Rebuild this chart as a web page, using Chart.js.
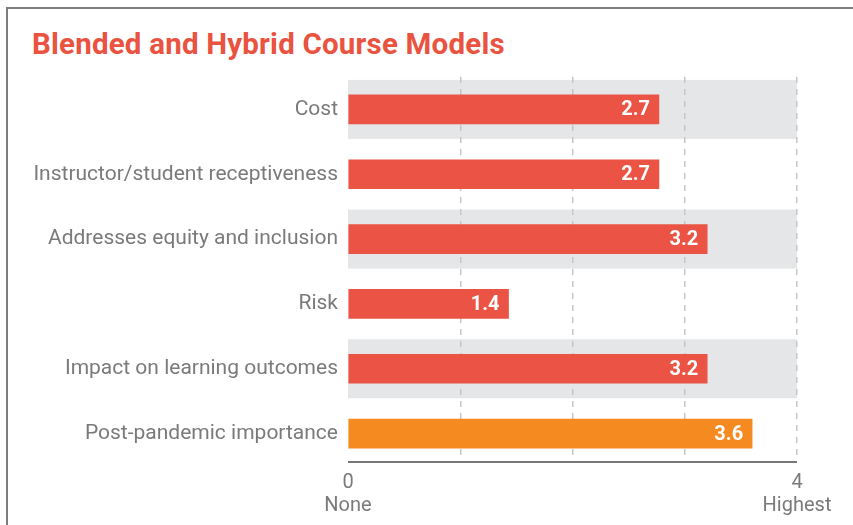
<!DOCTYPE html>
<html>
<head>
<meta charset="utf-8">
<script src="https://cdn.jsdelivr.net/npm/chart.js@4/dist/chart.umd.min.js"></script>
<style>
  html, body { margin: 0; padding: 0; background: #ffffff; }
  #wrap { position: relative; width: 853px; height: 525px; overflow: hidden; }
  #frame { position: absolute; left: 6px; top: 7px; width: 900px; height: 600px;
           border-top: 2px solid #7d7d7d; border-left: 2px solid #7d7d7d; }
  #title { position: absolute; left: 32px; top: 27px; margin: 0;
           font-family: Roboto, "Noto Sans", sans-serif; font-weight: 700; font-size: 29.5px;
           color: #e9533f; letter-spacing: 0.2px; white-space: nowrap; }
  #c { position: absolute; left: 0; top: 0; }
</style>
</head>
<body>
<div id="wrap">
  <div id="frame"></div>
  <h1 id="title">Blended and Hybrid Course Models</h1>
  <canvas id="c" width="853" height="525"></canvas>
</div>
<script>
const categories = [
  'Cost',
  'Instructor/student receptiveness',
  'Addresses equity and inclusion',
  'Risk',
  'Impact on learning outcomes',
  'Post-pandemic importance'
];
const scores = [2.77, 2.77, 3.2, 1.43, 3.2, 3.6];
const scoreLabels = ['2.7', '2.7', '3.2', '1.4', '3.2', '3.6'];
const axisTickLabels = { 0: ['0', 'None'], 4: ['4', 'Highest'] };
const highlightIndex = 5;

const RED = '#eb5444';
const ORANGE = '#f58a20';
const BAND = '#e5e6e8';
const TEXT = '#7a7a7a';
const GRID = '#c6c6c6';

const bandsPlugin = {
  id: 'bands',
  beforeDraw(chart) {
    const { ctx, scales: { x, y } } = chart;
    const x0 = x.getPixelForValue(0), x1 = x.getPixelForValue(4);
    const step = y.getPixelForValue(1) - y.getPixelForValue(0);
    const h = step * 0.91;
    ctx.save();
    ctx.fillStyle = BAND;
    categories.forEach((c, i) => {
      if (i % 2 === 0) {
        const cy = y.getPixelForValue(i);
        ctx.fillRect(x0, cy - h / 2, x1 - x0, h);
      }
    });
    ctx.restore();
  }
};

const labelsPlugin = {
  id: 'barLabels',
  afterDatasetsDraw(chart) {
    const { ctx, scales: { x } } = chart;
    const meta = chart.getDatasetMeta(0);
    ctx.save();
    ctx.fillStyle = '#ffffff';
    ctx.font = 'bold 20px Roboto, "Noto Sans", sans-serif';
    ctx.textAlign = 'right';
    ctx.textBaseline = 'middle';
    meta.data.forEach((bar, i) => {
      ctx.fillText(scoreLabels[i], bar.x - 9, bar.y + 1);
    });
    // cover gridline tails under the baseline, then draw baseline
    const yLine = chart.chartArea.bottom - 4;
    ctx.fillStyle = '#ffffff';
    ctx.fillRect(x.getPixelForValue(0) - 2, yLine - 3, x.getPixelForValue(4) - x.getPixelForValue(0) + 4, 8);
    ctx.strokeStyle = '#4a4a4a';
    ctx.lineWidth = 1.5;
    ctx.beginPath();
    ctx.moveTo(x.getPixelForValue(0), yLine);
    ctx.lineTo(x.getPixelForValue(4), yLine);
    ctx.stroke();
    ctx.restore();
  }
};

new Chart(document.getElementById('c'), {
  type: 'bar',
  data: {
    labels: categories,
    datasets: [{
      data: scores,
      backgroundColor: scores.map((v, i) => i === highlightIndex ? ORANGE : RED),
      borderWidth: 0,
      barThickness: 29
    }]
  },
  options: {
    indexAxis: 'y',
    responsive: false,
    animation: false,
    devicePixelRatio: 1,
    layout: { padding: { top: 77, right: 56, left: 0, bottom: 0 } },
    plugins: { legend: { display: false }, tooltip: { enabled: false }, title: { display: false } },
    scales: {
      x: {
        min: 0, max: 4,
        afterFit(s) { s.height = 59; },
        ticks: {
          stepSize: 1,
          autoSkip: false,
          maxRotation: 0,
          padding: 5,
          color: TEXT,
          font: { family: 'Roboto, "Noto Sans", sans-serif', size: 20, lineHeight: 1.15 },
          callback: (v) => axisTickLabels[v] || ''
        },
        grid: {
          color: (c) => (c.tick && c.tick.value === 0) ? 'rgba(0,0,0,0)' : GRID,
          lineWidth: 1.5,
          drawTicks: false
        },
        border: { display: false, dash: [6, 6] }
      },
      y: {
        afterFit(s) { s.width = 348; },
        ticks: {
          color: TEXT,
          padding: 10,
          font: { family: 'Roboto, "Noto Sans", sans-serif', size: 21 }
        },
        grid: { display: false, drawTicks: false },
        border: { display: false }
      }
    }
  },
  plugins: [bandsPlugin, labelsPlugin]
});
</script>
</body>
</html>
